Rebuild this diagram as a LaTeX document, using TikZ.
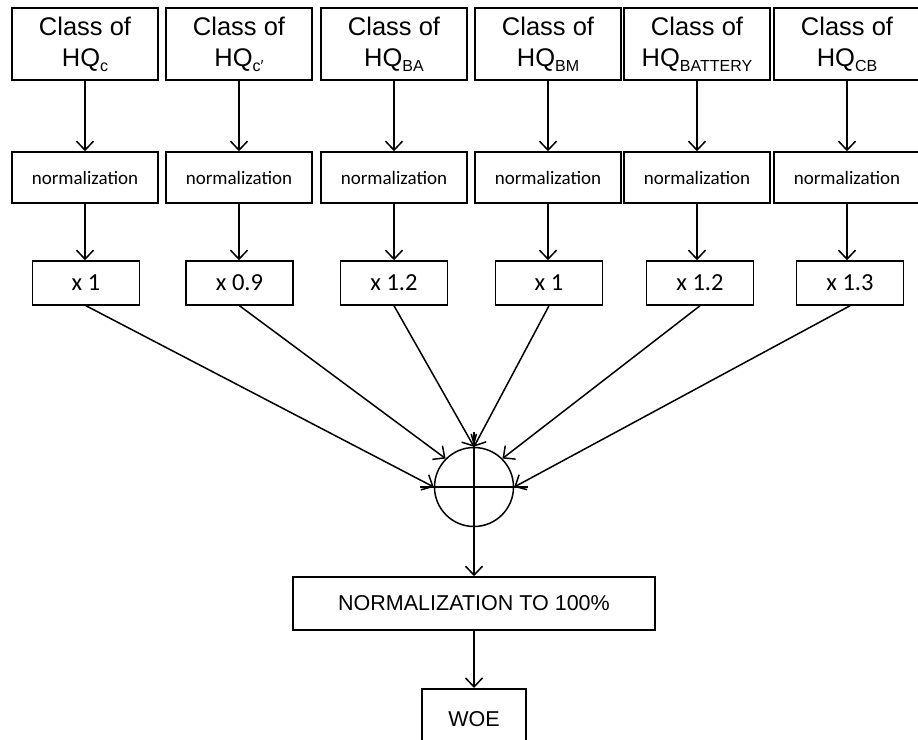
\documentclass[tikz,border=0pt]{standalone}
\usepackage{fontspec}
\setmainfont{Liberation Sans}
\newfontfamily\calfont{Carlito}
\usetikzlibrary{arrows.meta}
\newcommand{\mysub}[1]{\raisebox{-5.5pt}[0pt][0pt]{\fontsize{16}{16}\selectfont #1}}
\begin{document}
\begin{tikzpicture}[x=1pt,y=-1pt,
  line width=1.5pt,
  box/.style={draw,rectangle,inner sep=0pt,align=center},
  classbox/.style={box,minimum width=146pt,minimum height=72pt,font=\fontsize{25.5}{31}\selectfont},
  normbox/.style={box,minimum width=146pt,minimum height=51pt,font=\calfont\fontsize{19}{22}\selectfont},
  multbox/.style={box,minimum width=107pt,minimum height=44pt,font=\calfont\fontsize{24.5}{28}\selectfont},
  bigbox/.style={box,font=\fontsize{21.5}{25}\selectfont},
  arr/.style={-{Straight Barb[length=9pt,width=17pt]}}]
\path[use as bounding box] (0,0) rectangle (918,739);
\clip (0,0) rectangle (918,739);
% top class boxes
\node[classbox] (c1) at (85,44)  {Class of\\HQ\mysub{c}};
\node[classbox] (c2) at (239,44) {Class of\\HQ\mysub{c′}};
\node[classbox] (c3) at (394,44) {Class of\\HQ\mysub{BA}};
\node[classbox] (c4) at (548,44) {Class of\\HQ\mysub{BM}};
\node[classbox] (c5) at (697,44) {Class of\\HQ\mysub{BATTERY}};
\node[classbox] (c6) at (847,44) {Class of\\HQ\mysub{CB}};
% normalization boxes
\foreach \i/\xx in {1/85,2/239,3/394,4/548,5/697,6/847}{
  \node[normbox] (n\i) at (\xx,177.5) {normalization};
}
% multiplier boxes
\node[multbox] (m1) at (86,283)  {x 1};
\node[multbox] (m2) at (239.5,283) {x 0.9};
\node[multbox] (m3) at (394,283) {x 1.2};
\node[multbox] (m4) at (549,283) {x 1};
\node[multbox] (m5) at (700,283) {x 1.2};
\node[multbox] (m6) at (850,283) {x 1.3};
% vertical arrows
\foreach \i in {1,...,6}{
  \draw[arr] (c\i.south) -- (n\i.north);
  \draw[arr] (n\i.south) -- (n\i.south |- m\i.north);
}
% summing circle
\node[draw,circle,minimum size=79pt,inner sep=0pt] (s) at (474,487) {};
\draw ([xshift=-14pt]s.west) -- ([xshift=14pt]s.east);
\draw ([yshift=15pt]s.north) -- (s.south);
\draw[arr] (m1.south) -- (s.west);
\draw[arr] (m2.south) -- (s.north west);
\draw[arr] (m3.south) -- (s.north);
\draw[arr] (m4.south) -- (s.north);
\draw[arr] (m5.south) -- (s.north east);
\draw[arr] (m6.south) -- (s.east);
% bottom
\node[bigbox,minimum width=362pt,minimum height=53pt] (nt) at (474,603.5) {NORMALIZATION TO 100\%};
\draw[arr] (s.south) -- (nt.north);
\node[bigbox,minimum width=104pt,minimum height=104pt,anchor=north] (w) at (474,688) {};
\node[font=\fontsize{21.5}{25}\selectfont] (wt) at (474,719) {WOE};
\draw[arr] (nt.south) -- (w.north);
\end{tikzpicture}
\end{document}
